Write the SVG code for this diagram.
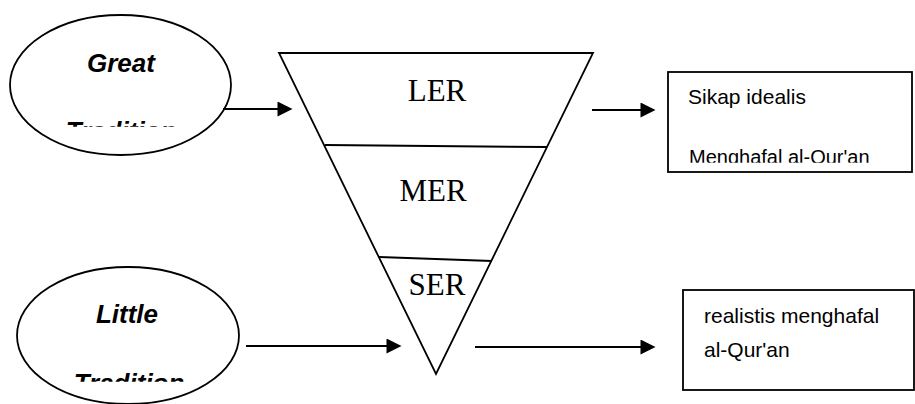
<svg xmlns="http://www.w3.org/2000/svg" width="915" height="404" viewBox="0 0 915 404">
<style>
.shape{fill:#fff;stroke:#000;stroke-width:1.8}
.edge{stroke:#000;stroke-width:2;fill:none}
.lbl{font-family:"Liberation Sans",Arial,sans-serif;font-weight:bold;font-style:italic;font-size:26px;fill:#000;text-anchor:middle}
.ser{font-family:"Liberation Serif","Times New Roman",serif;font-size:31px;fill:#000;text-anchor:middle}
.box{font-family:"Liberation Sans",Arial,sans-serif;font-size:21px;fill:#000}
</style>
<defs>
<marker id="ah" viewBox="0 0 16 16" refX="8" refY="8" markerWidth="16" markerHeight="15" markerUnits="userSpaceOnUse" orient="auto">
<path d="M0,0 L16,8 L0,16 z" fill="#000"/>
</marker>
<clipPath id="c1"><rect x="0" y="0" width="260" height="126.7"/></clipPath>
<clipPath id="c2"><rect x="0" y="260" width="260" height="121.7"/></clipPath>
<clipPath id="c3"><rect x="668" y="72" width="244" height="90.7"/></clipPath>
</defs>
<g id="great">
<ellipse class="shape" cx="120.5" cy="85" rx="110.5" ry="70"/>
<text class="lbl" x="121" y="72">Great</text>
<text class="lbl" x="121" y="140" clip-path="url(#c1)">Tradition</text>
</g>
<g id="little">
<ellipse class="shape" cx="128" cy="335.5" rx="111" ry="68.5"/>
<text class="lbl" x="127" y="323">Little</text>
<text class="lbl" x="129" y="391.6" clip-path="url(#c2)">Tradition</text>
</g>
<g id="funnel">
<polygon class="shape" points="279,53 593,53 436,374"/>
<line class="edge" x1="325" y1="145" x2="547" y2="147"/>
<line class="edge" x1="379" y1="257" x2="492" y2="261"/>
<text class="ser" x="437" y="101">LER</text>
<text class="ser" x="433" y="201">MER</text>
<text class="ser" x="437" y="295">SER</text>
</g>
<g id="box1">
<rect class="shape" x="668" y="72" width="244" height="100"/>
<text class="box" x="688" y="104">Sikap idealis</text>
<text class="box" x="689" y="164" style="font-size:20px" clip-path="url(#c3)">Menghafal al-Qur'an</text>
</g>
<g id="box2">
<rect class="shape" x="683" y="290" width="231" height="100"/>
<text class="box" x="704" y="323">realistis menghafal</text>
<text class="box" x="704" y="357">al-Qur'an</text>
</g>
<g id="connectors">
<line class="edge" x1="223" y1="109" x2="285" y2="109" marker-end="url(#ah)"/>
<line class="edge" x1="592" y1="110" x2="648" y2="110" marker-end="url(#ah)"/>
<line class="edge" x1="246" y1="346" x2="394" y2="346" marker-end="url(#ah)"/>
<line class="edge" x1="475" y1="347" x2="648" y2="347" marker-end="url(#ah)"/>
</g>
</svg>
